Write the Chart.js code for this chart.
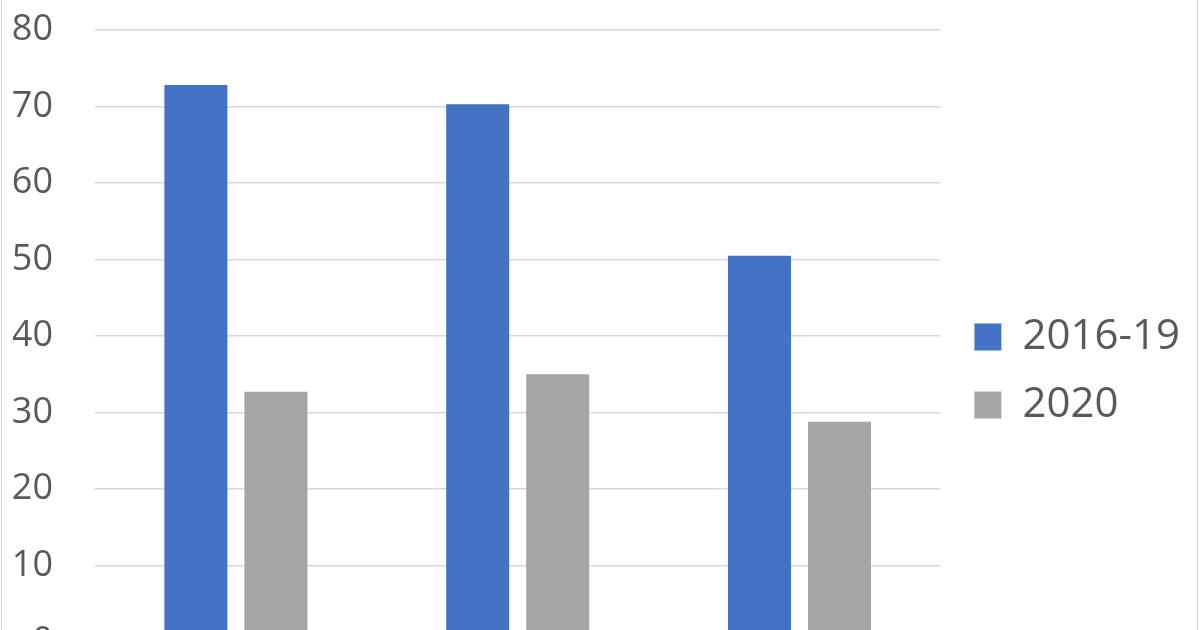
<!DOCTYPE html>
<html>
<head>
<meta charset="utf-8">
<script src="https://cdn.jsdelivr.net/npm/chart.js@4/dist/chart.umd.min.js"></script>
<style>
html,body{margin:0;padding:0;background:#fff;}
#frame{position:relative;width:1200px;height:630px;overflow:hidden;}
#box{position:absolute;left:0;top:0;width:1200px;height:740px;}
#edge{position:absolute;left:1px;top:0;width:1195px;height:630px;border-left:1px solid #d9d9d9;border-right:1px solid #d9d9d9;pointer-events:none;}
</style>
</head>
<body>
<div id="frame">
<div id="box"><canvas id="barChart"></canvas></div>
<div id="edge"></div>
</div>
<script>

// values
const categories=["Group 1","Group 2","Group 3"];
const series2016=[72.8,70.3,50.5];
const series2020=[32.7,35.0,28.8];
const yTicks=[0,10,20,30,40,50,60,70,80];

Chart.defaults.font.family="'Open Sans', sans-serif";
Chart.defaults.color="#595959";

// nudge the legend a little away from the plot, like the original
const legendGap={
id:"legendGap",
afterLayout(chart){
const lg=chart.legend;
if(!lg)return;
lg.left+=8;
lg.right+=8;
}
};

new Chart(document.getElementById("barChart"),{

type:"bar",

data:{

labels:categories,

datasets:[{
label:"2016-19",
data:series2016,
backgroundColor:"#4472c4",
categoryPercentage:0.568,
barPercentage:0.7875
},{
label:"2020",
data:series2020,
backgroundColor:"#a5a5a5",
categoryPercentage:0.568,
barPercentage:0.7875
}]

},

plugins:[legendGap],

options:{
responsive:true,
maintainAspectRatio:false,
animation:false,
layout:{padding:{top:30,bottom:28,left:13,right:18}},
plugins:{
tooltip:{enabled:false},
legend:{
position:"right",
labels:{
boxWidth:27,
boxHeight:27,
padding:26,
color:"#595959",
font:{size:42}
}
}
},
scales:{
x:{
grid:{display:false},
border:{display:false},
ticks:{display:false},
afterFit:function(scale){scale.height=70;}
},
y:{
min:0,
max:80,
afterBuildTicks:function(scale){scale.ticks=yTicks.map(v=>({value:v}));},
afterFit:function(scale){
scale.width=82;
scale.paddingTop=0;
scale.paddingBottom=0;
},
grid:{color:"#d9d9d9",lineWidth:1.5,drawTicks:false},
border:{display:false},
ticks:{padding:42,color:"#595959",font:{size:36}}
}
}
}

});

</script>
</body>
</html>
